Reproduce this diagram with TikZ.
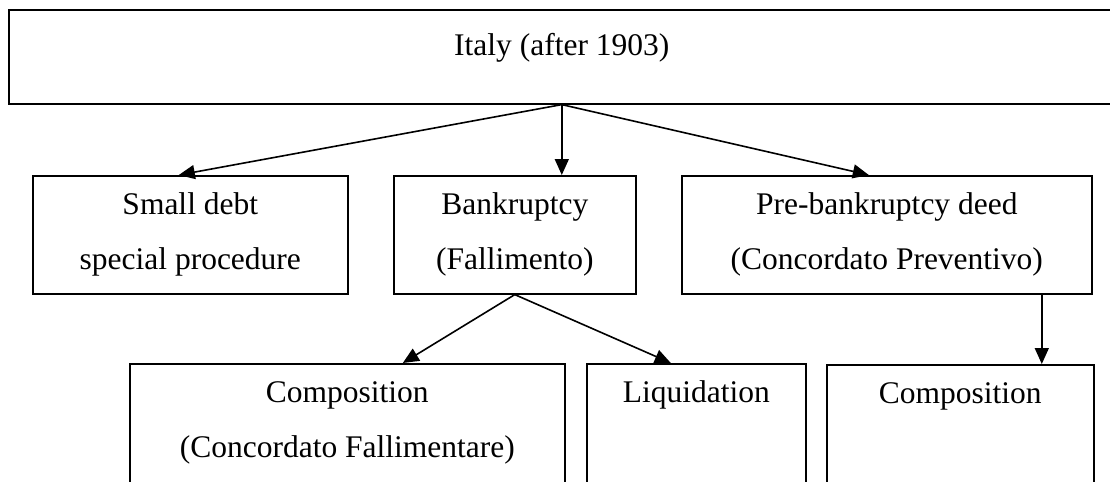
\documentclass[tikz,border=0pt]{standalone}
\usepackage{fontspec}
\setmainfont{Liberation Serif}
\usetikzlibrary{arrows.meta}

% box of fixed size, text set from the top
\newcommand{\boxlines}[3]{\parbox[c][#2][t]{#1}{\centering\rule{0pt}{19.5pt}#3}}

\begin{document}
\begin{tikzpicture}[
    x=0.5pt, y=-0.5pt,
    every node/.style={draw, anchor=north west, inner sep=0pt, line width=0.8pt,
        font=\fontsize{15.75pt}{27.5pt}\selectfont},
    >={Triangle[length=8pt,width=7pt]}, line width=0.8pt
]
    \useasboundingbox (0,0) rectangle (1110,482);
    \clip (0,0) rectangle (1110,482);

    \node (italy) at (8,9) {\boxlines{553pt}{47pt}{\rule{0pt}{23pt}Italy (after 1903)}};

    \node (small) at (32,175) {\boxlines{157.5pt}{59pt}{Small debt\\special procedure}};
    \node (bank) at (393,175) {\boxlines{121pt}{59pt}{Bankruptcy\\(Fallimento)}};
    \node (pre) at (681,175) {\boxlines{205pt}{59pt}{Pre-bankruptcy deed\\(Concordato Preventivo)}};

    \node (compf) at (129,363) {\boxlines{217.5pt}{65pt}{Composition\\(Concordato Fallimentare)}};
    \node (liq) at (586,363) {\boxlines{109.5pt}{65pt}{Liquidation}};
    \node (comp) at (826,364) {\boxlines{133.5pt}{65pt}{Composition}};

    \draw [->] (italy.south) -- ([xshift=-5.75pt]small.north);
    \draw [->] (italy.south) -- (italy.south |- bank.north);
    \draw [->] (italy.south) -- ([xshift=-9pt]pre.north);

    \draw [->] (bank.south) -- ([xshift=27.75pt]compf.north);
    \draw [->] (bank.south) -- ([xshift=-12.75pt]liq.north);
    \draw [->] ([xshift=77.5pt]pre.south) -- ([xshift=77.5pt]pre.south |- comp.north);
\end{tikzpicture}
\end{document}
